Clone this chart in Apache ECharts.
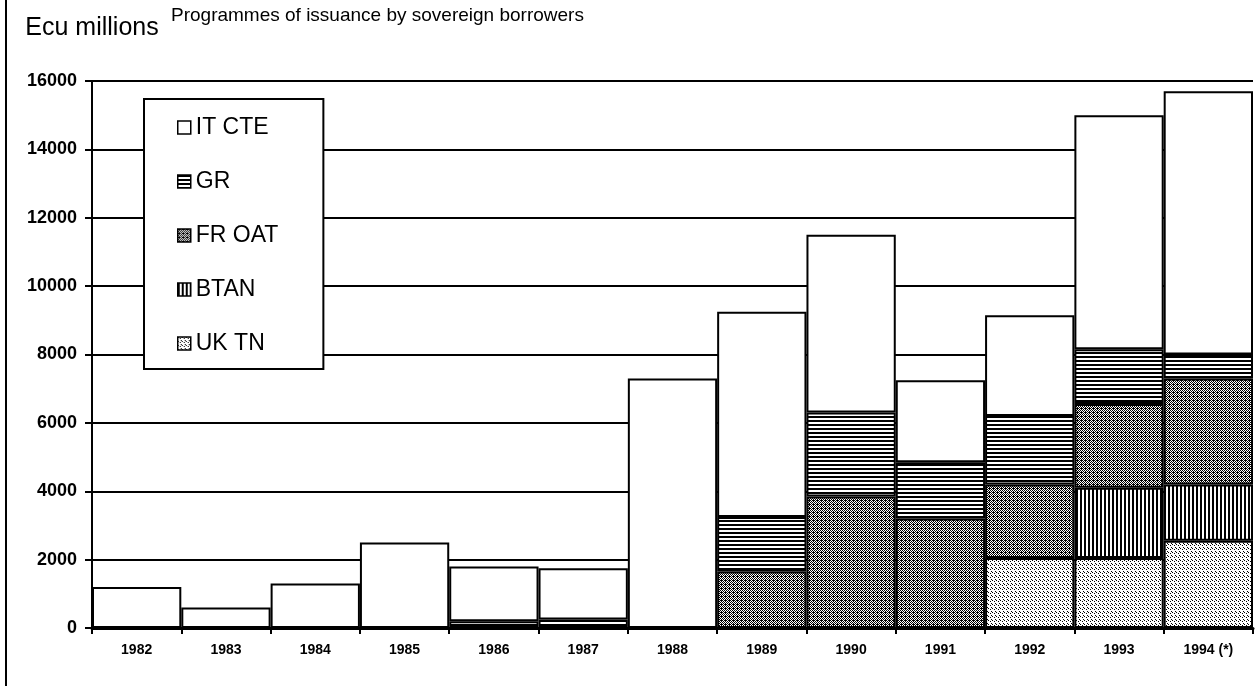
<!DOCTYPE html>
<html>
<head>
<meta charset="utf-8">
<title>Programmes of issuance by sovereign borrowers</title>
<script src="https://cdn.jsdelivr.net/npm/echarts@6/dist/echarts.min.js"></script>
<style>
    html, body { margin: 0; padding: 0; background: #fff; }
    #main { position: absolute; left: 0; top: 0; width: 1255px; height: 686px; }
    #edge { position: absolute; left: 5px; top: 0; width: 2px; height: 686px; background: #000; }
</style>
</head>
<body>
<div id="main"></div>
<div id="edge"></div>
<script>
var years = ['1982', '1983', '1984', '1985', '1986', '1987', '1988', '1989', '1990', '1991', '1992', '1993', '1994 (*)'];

// ecu millions (null = nothing issued)
var ukTn  = [null, null, null, null, null, null, null, null, null, null, 2050, 2050, 2550];
var btan  = [null, null, null, null, null, null, null, null, null, null, null, 2050, 1650];
var frOat = [null, null, null, null, null, null, null, 1650, 3850, 3200, 2150, 2450, 3100];
var gr    = [null, null, null, null, 200, 250, null, 1600, 2450, 1650, 2000, 1600, 700];
var itCte = [1200, 600, 1300, 2500, 1600, 1500, 7300, 6000, 5200, 2400, 2950, 6850, 7700];

var legendOrder = ['IT CTE', 'GR', 'FR OAT', 'BTAN', 'UK TN'];

// small canvas tiles used as fill patterns (black & white print look)
function makeTile(w, h, isBlack) {
    var c = document.createElement('canvas');
    c.width = w;
    c.height = h;
    var ctx = c.getContext('2d');
    ctx.fillStyle = '#fff';
    ctx.fillRect(0, 0, w, h);
    ctx.fillStyle = '#000';
    for (var y = 0; y < h; y++) {
        for (var x = 0; x < w; x++) {
            if (isBlack(x, y)) ctx.fillRect(x, y, 1, 1);
        }
    }
    return { image: c, repeat: 'repeat' };
}

var ukDots = ['0,0', '2,1', '3,3'];

var fills = {
    'IT CTE': '#fff',
    'GR': makeTile(4, 4, function (x, y) { return y < 2; }),
    'FR OAT': makeTile(4, 4, function (x, y) {
        return (x + y) % 2 === 0 || (x === 1 && y === 0);
    }),
    'BTAN': makeTile(4, 4, function (x, y) { return x < 2; }),
    'UK TN': makeTile(4, 4, function (x, y) { return ukDots.indexOf(x + ',' + y) >= 0; })
};

var font = "'Liberation Sans', Arial, Helvetica, sans-serif";

function barSeries(name, values) {
    return {
        name: name,
        type: 'bar',
        stack: 'total',
        barCategoryGap: 0,
        data: values,
        itemStyle: {
            color: fills[name],
            borderColor: '#000',
            borderWidth: 2
        }
    };
}

var option = {
    backgroundColor: '#fff',
    animation: false,
    textStyle: { fontFamily: font, color: '#000' },
    title: {
        text: 'Programmes of issuance by sovereign borrowers',
        left: 171,
        top: 6,
        padding: 0,
        textStyle: {
            fontFamily: font,
            fontSize: 19,
            fontWeight: 'normal',
            color: '#000'
        }
    },
    legend: {
        data: legendOrder,
        orient: 'vertical',
        icon: 'rect',
        left: 144,
        top: 99,
        padding: [17, 45, 14, 33],
        itemWidth: 13,
        itemHeight: 13,
        itemGap: 31,
        borderColor: '#000',
        borderWidth: 2,
        backgroundColor: '#fff',
        selectedMode: false,
        itemStyle: { borderColor: '#000', borderWidth: 1.5 },
        textStyle: {
            fontFamily: font,
            fontSize: 23,
            lineHeight: 22,
            color: '#000'
        }
    },
    grid: {
        left: 92,
        right: 2,
        top: 81,
        bottom: 58
    },
    xAxis: {
        type: 'category',
        data: years,
        axisLine: { lineStyle: { color: '#000', width: 3 } },
        axisTick: { show: true, length: 6, lineStyle: { color: '#000', width: 2 } },
        axisLabel: {
            interval: 0,
            margin: 15,
            fontFamily: font,
            fontSize: 14,
            fontWeight: 'bold',
            color: '#000'
        },
        splitLine: { show: false }
    },
    yAxis: {
        type: 'value',
        min: 0,
        max: 16000,
        interval: 2000,
        name: 'Ecu millions',
        nameLocation: 'end',
        nameGap: 53,
        nameTextStyle: {
            fontFamily: font,
            fontSize: 25,
            color: '#000',
            align: 'center',
            verticalAlign: 'middle'
        },
        axisLine: { show: true, lineStyle: { color: '#000', width: 2 } },
        axisTick: { show: true, length: 7, lineStyle: { color: '#000', width: 2 } },
        axisLabel: {
            margin: 15,
            fontFamily: font,
            fontSize: 18,
            fontWeight: 'bold',
            color: '#000',
            formatter: function (v) { return String(v); }
        },
        splitLine: { show: true, lineStyle: { color: '#000', width: 2 } }
    },
    series: [
        barSeries('UK TN', ukTn),
        barSeries('BTAN', btan),
        barSeries('FR OAT', frOat),
        barSeries('GR', gr),
        barSeries('IT CTE', itCte)
    ]
};

var myChart = echarts.init(document.getElementById('main'), null, { renderer: 'canvas' });
myChart.setOption(option);
</script>
</body>
</html>
